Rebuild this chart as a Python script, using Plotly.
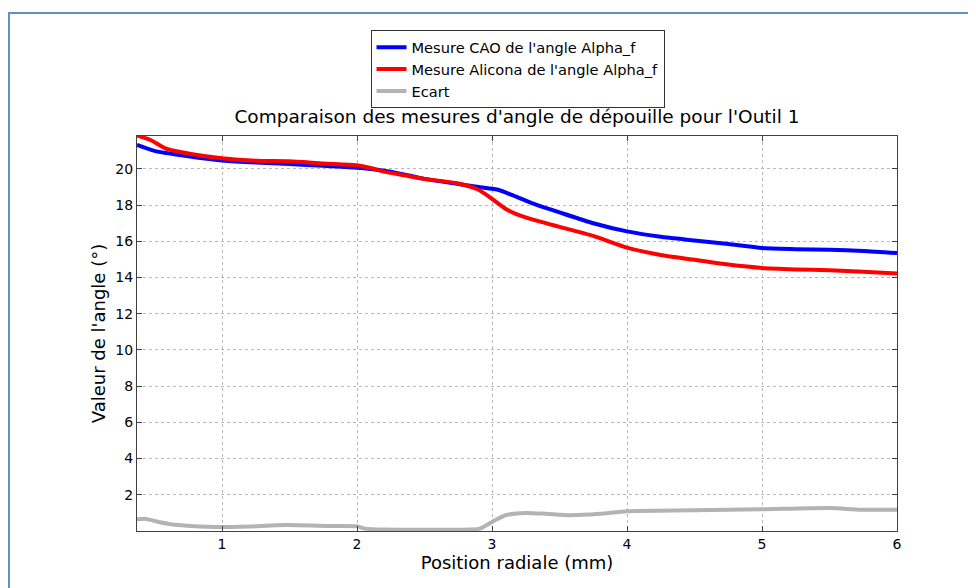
import plotly.graph_objects as go

x_cao = [0.37, 0.5, 0.75, 1.0, 1.25, 1.5, 1.75, 2.0, 2.1, 2.25, 2.5, 2.75, 2.9, 3.05, 3.15, 3.3, 3.5, 3.75, 4.0, 4.25, 4.5, 4.75, 5.0, 5.25, 5.5, 5.75, 6.0]
y_cao = [21.33, 21.0, 20.7, 20.47, 20.35, 20.27, 20.17, 20.07, 20.0, 19.85, 19.45, 19.17, 19.0, 18.84, 18.55, 18.1, 17.6, 17.0, 16.55, 16.25, 16.05, 15.85, 15.63, 15.57, 15.53, 15.47, 15.35]

x_ali = [0.37, 0.47, 0.58, 0.77, 1.0, 1.25, 1.5, 1.75, 2.0, 2.1, 2.2, 2.35, 2.5, 2.75, 2.9, 3.0, 3.1, 3.2, 3.35, 3.5, 3.75, 4.0, 4.25, 4.5, 4.75, 5.0, 5.25, 5.5, 5.75, 6.0]
y_ali = [21.85, 21.6, 21.14, 20.83, 20.59, 20.45, 20.42, 20.3, 20.2, 20.05, 19.85, 19.65, 19.45, 19.2, 18.85, 18.35, 17.8, 17.45, 17.1, 16.8, 16.3, 15.65, 15.25, 14.98, 14.72, 14.53, 14.45, 14.4, 14.32, 14.22]

x_ecart = [0.37, 0.43, 0.5, 0.62, 0.77, 1.0, 1.2, 1.47, 1.8, 2.0, 2.06, 2.2, 2.5, 2.84, 2.91, 3.0, 3.1, 3.25, 3.4, 3.58, 3.8, 4.0, 4.5, 5.0, 5.5, 5.73, 6.0]
y_ecart = [0.65, 0.68, 0.55, 0.37, 0.28, 0.22, 0.25, 0.33, 0.28, 0.26, 0.13, 0.08, 0.07, 0.08, 0.13, 0.5, 0.87, 1.0, 0.95, 0.87, 0.95, 1.09, 1.14, 1.2, 1.27, 1.18, 1.18]

x_ticks = [1, 2, 3, 4, 5, 6]
y_ticks = [2, 4, 6, 8, 10, 12, 14, 16, 18, 20]

font = "DejaVu Sans, Liberation Sans, sans-serif"

fig = go.Figure()
fig.add_trace(go.Scatter(x=x_cao, y=y_cao, mode="lines", name="Mesure CAO de l'angle Alpha_f",
                         line=dict(color="#0000ff", width=4, shape="spline", smoothing=0.6)))
fig.add_trace(go.Scatter(x=x_ali, y=y_ali, mode="lines", name="Mesure Alicona de l'angle Alpha_f",
                         line=dict(color="#ff0000", width=4, shape="spline", smoothing=0.6)))
fig.add_trace(go.Scatter(x=x_ecart, y=y_ecart, mode="lines", name="Ecart",
                         line=dict(color="#b3b3b3", width=4, shape="spline", smoothing=0.6)))

axis_common = dict(
    showline=True, linecolor="#404040", linewidth=1, mirror="ticks",
    ticks="inside", ticklen=5, tickcolor="#404040",
    showgrid=True, gridcolor="#b8b8b8", griddash="dot", gridwidth=1,
    zeroline=False, tickfont=dict(family=font, size=14, color="black"),
)

# page body has an 8px offset, so the figure is sized 968x580
fig.update_layout(
    width=968, height=580,
    margin=dict(l=129, r=79, t=128, b=57),
    paper_bgcolor="white", plot_bgcolor="white",
    font=dict(family=font, color="black"),
    title=dict(text="Comparaison des mesures d'angle de dépouille pour l'Outil 1",
               x=509 / 968, xanchor="center", y=1 - 109 / 580, yanchor="middle",
               yref="container", font=dict(size=18.5, family=font, color="black")),
    xaxis=dict(range=[0.37, 6.0], tickvals=x_ticks,
               title=dict(text="Position radiale (mm)", font=dict(size=18, family=font), standoff=4),
               **axis_common),
    yaxis=dict(range=[0, 21.82], tickvals=y_ticks,
               title=dict(text="Valeur de l'angle (°)", font=dict(size=18, family=font), standoff=5),
               **axis_common),
    legend=dict(x=0.5007, xanchor="center", y=1.268, yanchor="top",
                bordercolor="#333333", borderwidth=1, bgcolor="white",
                font=dict(size=14.6, family=font, color="black"),
                tracegroupgap=0, itemwidth=30),
    showlegend=True,
    shapes=[dict(type="rect", xref="paper", yref="paper",
                 x0=(9 - 137) / 760, x1=1.2, y0=-0.3, y1=(531 - 13) / 395,
                 line=dict(color="#5f8fc8", width=2), fillcolor="rgba(0,0,0,0)", layer="below")],
)

fig.write_html("out.html")
